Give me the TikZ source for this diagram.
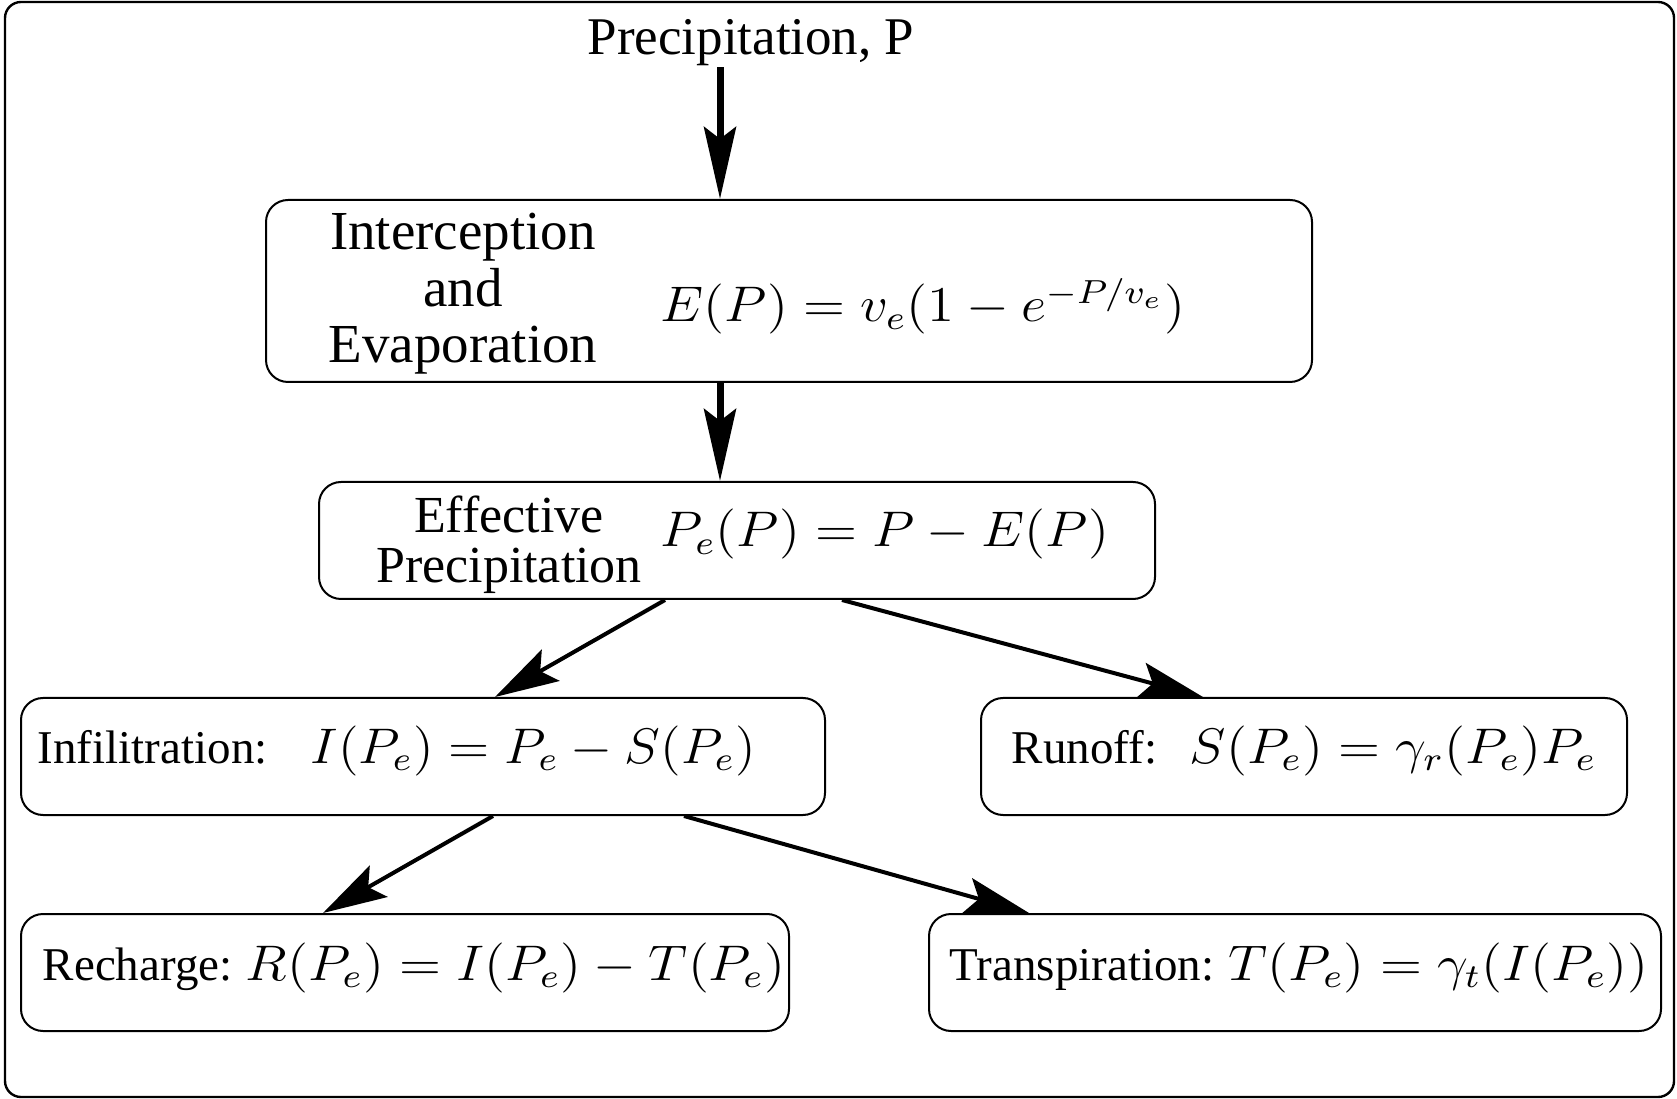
\documentclass[tikz,border=0pt]{standalone}
\usepackage[no-math]{fontspec}
\setmainfont{Liberation Serif}
\usepackage{graphicx}
\usetikzlibrary{arrows.meta,calc}
\tikzset{
  frame/.style={draw, line width=0.6pt, rounded corners=4pt},
  box/.style={draw, line width=0.5pt, rounded corners=5.5pt, inner sep=0pt},
  ttl/.style={inner sep=0pt, font=\fontsize{13.25}{15}\selectfont},
  bigtxt/.style={inner sep=0pt, align=center, font=\fontsize{13.75}{14.125}\selectfont},
  midtxt/.style={inner sep=0pt, align=center, font=\fontsize{13}{12.5}\selectfont},
  smalltxt/.style={inner sep=0pt, font=\fontsize{11.75}{14}\selectfont},
  eqn/.style={inner sep=0pt, font=\fontsize{12}{14}\selectfont},
  varr/.style={line width=1.75pt, -{Stealth[length=18pt, width=8pt, inset=3pt]}},
  darr/.style={line width=1pt, -{Stealth[length=16pt, width=9pt, inset=3pt]}}
}
\newcommand{\wideq}[1]{\scalebox{1.146}[1.042]{$#1$}}
\newcommand{\wideqb}[1]{\scalebox{1.125}[1.042]{$#1$}}
\begin{document}
\begin{tikzpicture}[x=0.25pt, y=-0.25pt]
\useasboundingbox (0,0) rectangle (1677,1099);
\draw[frame] (5,2) rectangle (1674,1097);

% boxes
\node[box, minimum width=261.5pt, minimum height=45.5pt] (b1) at (789,291) {};
\node[box, minimum width=209pt, minimum height=29.25pt] (b2) at (737,540.5) {};
\node[box, minimum width=201pt, minimum height=29.25pt] (b3) at (423,756.5) {};
\node[box, minimum width=161.5pt, minimum height=29.25pt] (b4) at (1304,756.5) {};
\node[box, minimum width=192pt, minimum height=29.25pt] (b5) at (405,972.5) {};
\node[box, minimum width=183pt, minimum height=29.25pt] (b6) at (1295,972.5) {};

% texts
\node[ttl, anchor=base] (title) at (751,55) {Precipitation, P};
\node[bigtxt] (l1) at (463,294) {Interception\\and\\Evaporation};
\node[eqn, anchor=base west] (e1) at (660,322) {\wideq{E(P) = v_e(1-e^{-P/v_e})}};
\node[midtxt] (l2) at (509,545) {Effective\\Precipitation};
\node[eqn, anchor=base west] (e2) at (660,547) {\wideq{P_e(P) = P - E(P)}};
\node[smalltxt, anchor=base west] (l3) at (37,763) {Infilitration:};
\node[eqn, anchor=base west] (e3) at (310,763) {\wideqb{I(P_e) = P_e - S(P_e)}};
\node[smalltxt, anchor=base west] (l4) at (1011,763) {Runoff:};
\node[eqn, anchor=base west] (e4) at (1189,763) {\wideq{S(P_e) = \gamma_r(P_e)P_e}};
\node[smalltxt, anchor=base west] (l5) at (42,980) {Recharge:};
\node[eqn, anchor=base west] (e5) at (245,980) {\wideq{R(P_e) = I(P_e) - T(P_e)}};
\node[smalltxt, anchor=base west] (l6) at (949,980) {Transpiration:};
\node[eqn, anchor=base west] (e6) at (1228,980) {\wideq{T(P_e) = \gamma_t(I(P_e))}};

% connectors
\coordinate (a1e) at ([xshift=-17.25pt]b1.north);
\draw[varr] (title.south -| a1e) -- (a1e);
\draw[varr] ([xshift=-17.25pt]b1.south) -- ([xshift=-4.25pt]b2.north);
\draw[darr] ([xshift=-18pt]b2.south) -- ([xshift=18pt]b3.north);
\draw[darr] ([xshift=26.25pt]b2.south) -- ([xshift=-25.25pt]b4.north);
\draw[darr] ([xshift=17.5pt]b3.south) -- ([xshift=-20.5pt]b5.north);
\draw[darr] ([xshift=65.25pt]b3.south) -- ([xshift=-66.5pt]b6.north);
\end{tikzpicture}
\end{document}
